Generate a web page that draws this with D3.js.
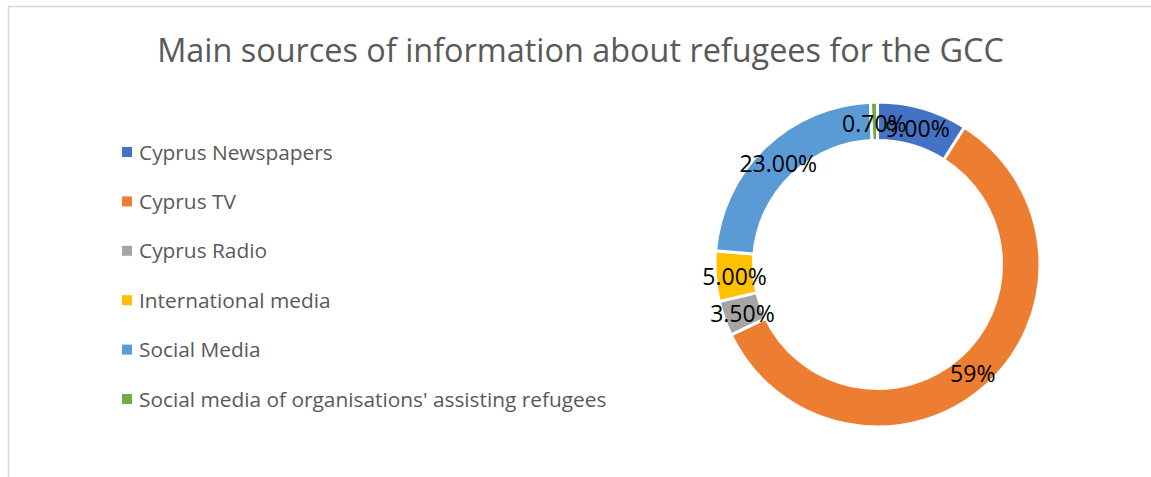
<!DOCTYPE html>
<html>
<head>
<meta charset="utf-8">
<script src="https://cdn.jsdelivr.net/npm/d3@7"></script>
<style>
  html, body { margin: 0; padding: 0; background: #fff; }
  svg { display: block; }
  text { font-family: "Open Sans", "Noto Sans", sans-serif; }
</style>
</head>
<body>
<svg id="chart" width="1151" height="477"></svg>
<script>
// Survey shares by information source
const categories = [
  "Cyprus Newspapers",
  "Cyprus TV",
  "Cyprus Radio",
  "International media",
  "Social Media",
  "Social media of organisations' assisting refugees"
];
const values = [9.0, 59, 3.5, 5.0, 23.0, 0.7];
const valueLabels = ["9.00%", "59%", "3.50%", "5.00%", "23.00%", "0.70%"];
const colors = ["#4472c4", "#ed7d31", "#a5a5a5", "#ffc000", "#5b9bd5", "#70ad47"];
const title = "Main sources of information about refugees for the GCC";

const W = 1151, H = 477;
const svg = d3.select("#chart");

// chart area frame
svg.append("rect")
  .attr("x", 8.5).attr("y", 6.5)
  .attr("width", W + 10).attr("height", H + 10)
  .attr("fill", "none")
  .attr("stroke", "#d9d9d9")
  .attr("stroke-width", 1.5);

// title
svg.append("text")
  .attr("x", 580.5).attr("y", 62)
  .attr("text-anchor", "middle")
  .attr("fill", "#595959")
  .attr("font-size", 32.4)
  .text(title);

// legend
const color = d3.scaleOrdinal().domain(categories).range(colors);
const legendY = d3.scalePoint().domain(categories).range([152, 399]);
const legend = svg.append("g").selectAll("g")
  .data(categories).join("g")
  .attr("transform", d => `translate(122,${legendY(d)})`);
legend.append("rect")
  .attr("x", 0).attr("y", -5).attr("width", 10).attr("height", 10)
  .attr("fill", d => color(d));
legend.append("text")
  .attr("x", 17).attr("y", 0).attr("dy", "0.36em")
  .attr("fill", "#595959")
  .attr("font-size", 20.85)
  .text(d => d);

// doughnut
const cx = 877.5, cy = 264.5, rOuter = 162.5, rInner = 124;
const pie = d3.pie().sort(null).value(d => d.v);
const arcs = pie(categories.map((c, i) => ({ c, v: values[i], label: valueLabels[i] })));
const arc = d3.arc().innerRadius(rInner).outerRadius(rOuter);

const g = svg.append("g").attr("transform", `translate(${cx},${cy})`);
g.selectAll("path")
  .data(arcs).join("path")
  .attr("d", arc)
  .attr("fill", d => color(d.data.c))
  .attr("stroke", "#fff")
  .attr("stroke-width", 3)
  .attr("stroke-linejoin", "miter");

// value labels centred on each ring segment
g.selectAll("text.lbl")
  .data(arcs).join("text")
  .attr("class", "lbl")
  .attr("transform", d => `translate(${arc.centroid(d)})`)
  .attr("text-anchor", "middle")
  .attr("dy", "0.45em")
  .attr("fill", "#000")
  .attr("font-size", 23)
  .text(d => d.data.label);
</script>
</body>
</html>
